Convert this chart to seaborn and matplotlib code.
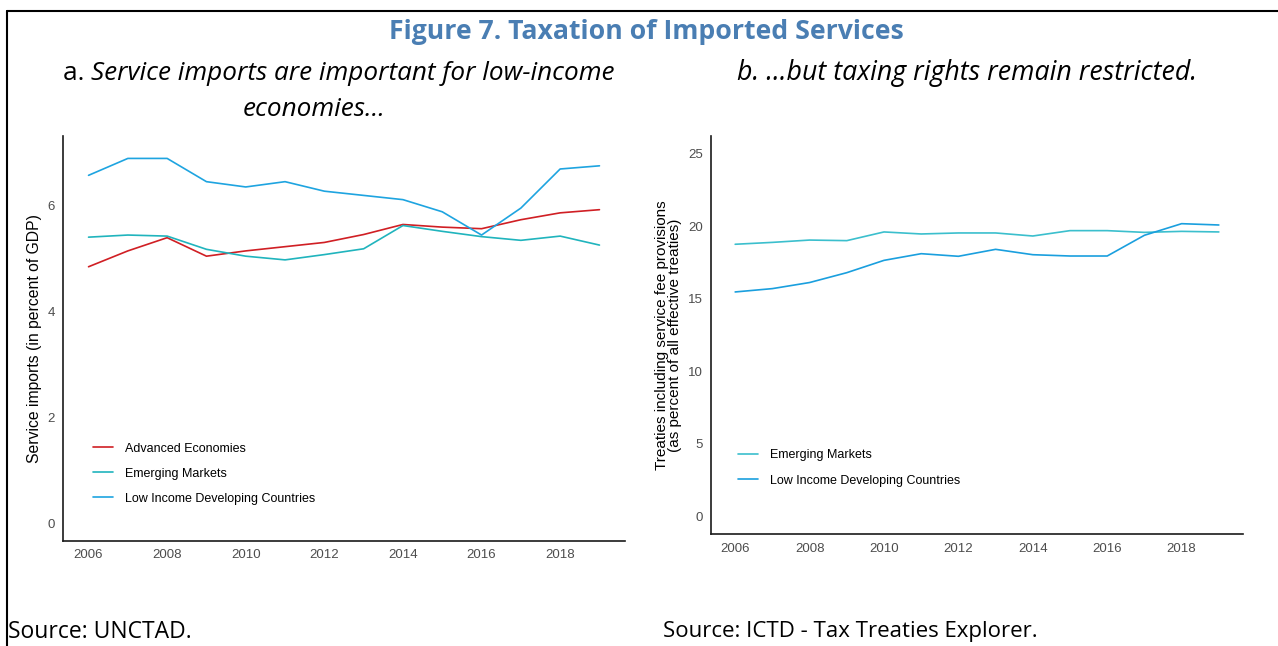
import numpy as np
import pandas as pd
import matplotlib
matplotlib.use("Agg")
import matplotlib.pyplot as plt
from matplotlib.lines import Line2D
import seaborn as sns

# ---- data -------------------------------------------------------------
years = list(range(2006, 2020))

# Panel a: service imports, percent of GDP
imports_ae = [4.85, 5.15, 5.40, 5.05, 5.15, 5.23, 5.31, 5.46, 5.65, 5.60, 5.57, 5.74, 5.87, 5.93]
imports_em = [5.41, 5.45, 5.43, 5.18, 5.05, 4.98, 5.08, 5.19, 5.63, 5.52, 5.42, 5.35, 5.43, 5.26]
imports_lidc = [6.58, 6.90, 6.90, 6.46, 6.36, 6.46, 6.28, 6.20, 6.12, 5.89, 5.45, 5.96, 6.70, 6.76]

# Panel b: treaties with service fee provisions, percent of effective treaties
treaties_em = [18.76, 18.89, 19.05, 19.01, 19.61, 19.47, 19.54, 19.54, 19.33, 19.70, 19.70, 19.58, 19.65, 19.61]
treaties_lidc = [15.47, 15.70, 16.12, 16.80, 17.65, 18.11, 17.93, 18.41, 18.04, 17.95, 17.95, 19.38, 20.18, 20.09]

groups_a = ["Advanced Economies", "Emerging Markets", "Low Income Developing Countries"]
groups_b = ["Emerging Markets", "Low Income Developing Countries"]
x_ticks = [2006, 2008, 2010, 2012, 2014, 2016, 2018]
y_ticks_a = [0, 2, 4, 6]
y_ticks_b = [0, 5, 10, 15, 20, 25]

df_a = pd.DataFrame({
    "year": years * 3,
    "value": imports_ae + imports_em + imports_lidc,
    "group": sum([[g] * len(years) for g in groups_a], []),
})
df_b = pd.DataFrame({
    "year": years * 2,
    "value": treaties_em + treaties_lidc,
    "group": sum([[g] * len(years) for g in groups_b], []),
})

pal_a = {"Advanced Economies": "#d01f24",
         "Emerging Markets": "#20b4bd",
         "Low Income Developing Countries": "#1ea4e0"}
pal_b = {"Emerging Markets": "#3bbfcd",
         "Low Income Developing Countries": "#1a9fde"}

# ---- styling ----------------------------------------------------------
sns.set_style("white")
plt.rcParams["font.family"] = ["Liberation Sans", "DejaVu Sans"]
plt.rcParams["text.color"] = "black"
plt.rcParams["axes.labelcolor"] = "black"

W, H = 1278, 646
fig = plt.figure(figsize=(W / 100, H / 100), dpi=100)


def px_rect(x0, y_top, x1, y_bot):
    return [x0 / W, 1 - y_bot / H, (x1 - x0) / W, (y_bot - y_top) / H]


def style_axes(ax, yticks):
    for side in ("top", "right"):
        ax.spines[side].set_visible(False)
    for side in ("left", "bottom"):
        ax.spines[side].set_color("#1a1a1a")
        ax.spines[side].set_linewidth(1.2)
    ax.set_xticks(x_ticks)
    ax.set_yticks(yticks)
    ax.tick_params(axis="both", which="major", length=3, width=0.9,
                   color="#333333", labelcolor="#4d4d4d", labelsize=9.5, pad=3)
    ax.set_xlabel("")
    ax.grid(False)


ax_a = fig.add_axes(px_rect(63, 135.7, 625, 541))
sns.lineplot(data=df_a, x="year", y="value", hue="group", palette=pal_a,
             hue_order=groups_a, linewidth=1.2, ax=ax_a)
ax_a.set_xlim(2005.35, 2019.65)
ax_a.set_ylim(-0.34, 7.33)
style_axes(ax_a, y_ticks_a)
ax_a.set_ylabel("Service imports (in percent of GDP)", fontsize=11.3, labelpad=4)
ax_a.legend(title=None, frameon=False, loc="upper left",
            bbox_to_anchor=(0.053, 0.243), borderaxespad=0, borderpad=0,
            fontsize=9, handlelength=1.6, handletextpad=0.95, labelspacing=1.05)

ax_b = fig.add_axes(px_rect(711, 135.7, 1243, 534.3))
sns.lineplot(data=df_b, x="year", y="value", hue="group", palette=pal_b,
             hue_order=groups_b, linewidth=1.2, ax=ax_b)
ax_b.set_xlim(2005.35, 2019.65)
ax_b.set_ylim(-1.25, 26.25)
style_axes(ax_b, y_ticks_b)
ax_b.set_ylabel("Treaties including service fee provisions\n(as percent of all effective treaties)",
                fontsize=11, labelpad=4, linespacing=0.9)
ax_b.legend(title=None, frameon=False, loc="upper left",
            bbox_to_anchor=(0.051, 0.213), borderaxespad=0, borderpad=0,
            fontsize=9, handlelength=1.6, handletextpad=0.95, labelspacing=1.05)

# ---- titles and notes -------------------------------------------------
head_font = ["Open Sans", "DejaVu Sans"]
fig.text(646 / W, 1 - 32 / H, "Figure 7. Taxation of Imported Services",
         ha="center", va="center", fontsize=19.2, fontweight="bold",
         color="#4a7eb3", family=head_font)

renderer = fig.canvas.get_renderer()
lead = fig.text(63 / W, 1 - 73 / H, "a. ", ha="left", va="center",
                fontsize=18.8, family=head_font)
bb = lead.get_window_extent(renderer)
fig.text(bb.x1 / W, 1 - 73 / H, "Service imports are important for low-income",
         ha="left", va="center", fontsize=18.8, style="italic", family=head_font)
fig.text(314 / W, 1 - 110 / H, "economies\u2026", ha="center", va="center",
         fontsize=18.8, style="italic", family=head_font)
fig.text(967 / W, 1 - 73 / H, "b. \u2026but taxing rights remain restricted.",
         ha="center", va="center", fontsize=19.3, style="italic", family=head_font)

fig.text(8 / W, 1 - 632 / H, "Source: UNCTAD.", ha="left", va="center",
         fontsize=16.5, family=head_font)
fig.text(663 / W, 1 - 632 / H, "Source: ICTD - Tax Treaties Explorer.",
         ha="left", va="center", fontsize=16, family=head_font)

# frame lines along the top and left edges
fig.add_artist(Line2D([7 / W, 1], [1 - 10.5 / H, 1 - 10.5 / H],
                      transform=fig.transFigure, color="black", linewidth=1.5))
fig.add_artist(Line2D([7 / W, 7 / W], [0, 1 - 10.5 / H],
                      transform=fig.transFigure, color="black", linewidth=1.5))

fig.savefig("out.png", dpi=100)
